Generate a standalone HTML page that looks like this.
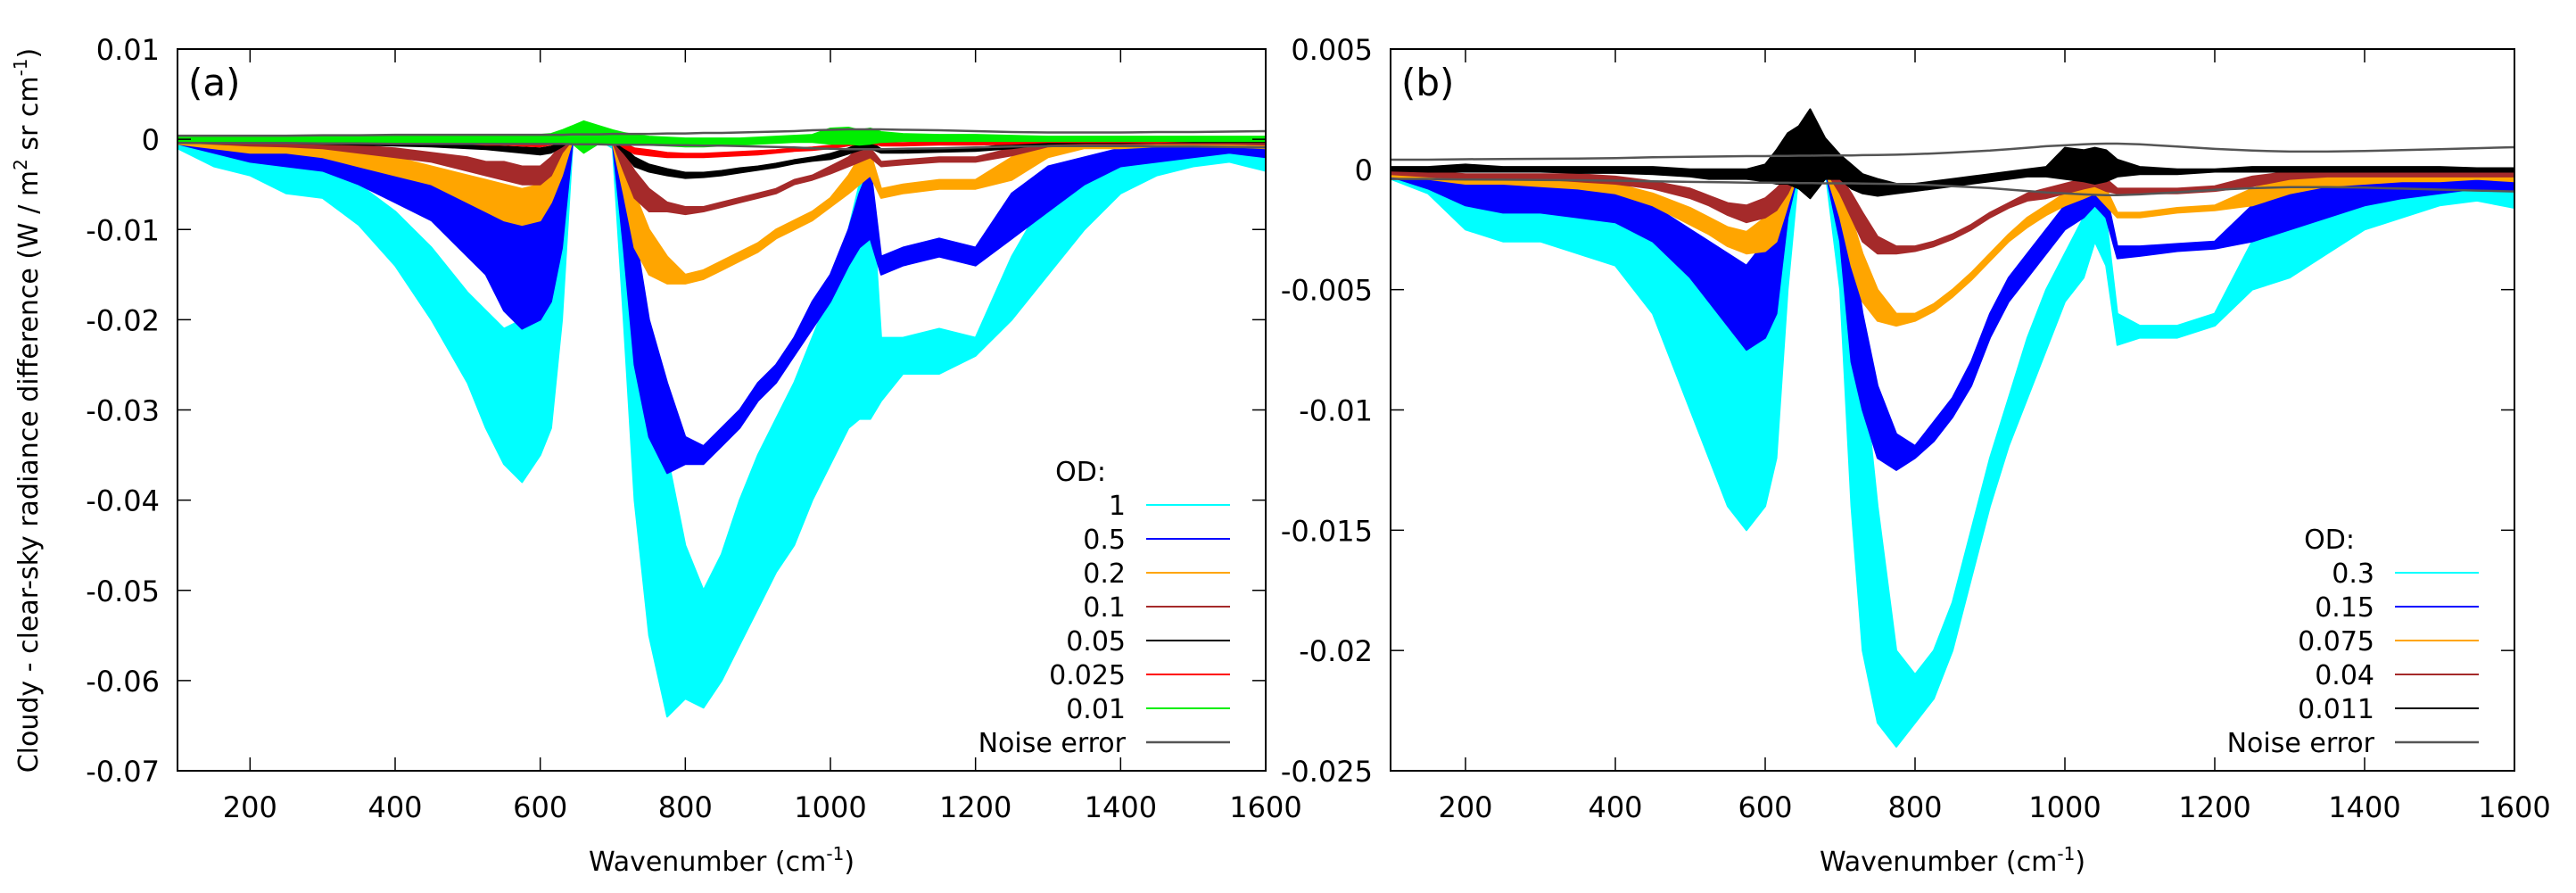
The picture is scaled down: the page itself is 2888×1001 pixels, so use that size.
<!DOCTYPE html>
<html><head><meta charset="utf-8"><style>
html,body{margin:0;padding:0;background:#fff;}
svg{display:block;font-family:"DejaVu Sans","Liberation Sans",sans-serif;}
</style></head><body>
<svg id="chart" width="2888" height="1001" viewBox="0 0 2888 1001" xmlns="http://www.w3.org/2000/svg">
<defs>
<clipPath id="clipA"><rect x="199" y="55" width="1220" height="809"/></clipPath>
<clipPath id="clipB"><rect x="1559" y="55" width="1260" height="809"/></clipPath>
</defs>
<g id="panelA"></g>
<g id="panelB"></g>
<text transform="translate(42,460) rotate(-90)" text-anchor="middle" font-size="30">Cloudy - clear-sky radiance difference (W / m<tspan font-size="20" dy="-12">2</tspan><tspan dy="12"> sr cm</tspan><tspan font-size="20" dy="-12">-1</tspan><tspan dy="12">)</tspan></text>
</svg>
<script>
// shared wavenumber grid (cm-1)
const wn = [100,150,200,250,300,350,400,450,500,525,550,575,600,615,630,645,660,680,700,715,730,750,775,800,825,850,875,900,925,950,975,1000,1025,1040,1055,1070,1100,1150,1200,1250,1300,1350,1400,1450,1500,1550,1600];
const xTicks = [200,400,600,800,1000,1200,1400,1600];
const yTicksA = [0.01,0,-0.01,-0.02,-0.03,-0.04,-0.05,-0.06,-0.07];
const yTickLabelsA = ["0.01","0","-0.01","-0.02","-0.03","-0.04","-0.05","-0.06","-0.07"];
const yTicksB = [0.005,0,-0.005,-0.01,-0.015,-0.02,-0.025];
const yTickLabelsB = ["0.005","0","-0.005","-0.01","-0.015","-0.02","-0.025"];
// Panel (a) values in units of 1e-3
const aCyanTop = [-0.5,-1,-1.5,-2.5,-3.5,-5,-8,-12,-17,-19,-21,-20,-17,-12,-2,0,0,0,0,-5,-15,-22,-35,-45,-50,-46,-40,-35,-31,-27,-22,-17,-10,-5,-3,-22,-22,-21,-22,-13,-6,-4,-2,-1.5,-1,-1,-2];
const aCyanBot = [-1,-3,-4,-6,-6.5,-9.5,-14,-20,-27,-32,-36,-38,-35,-32,-20,0,0,0,-1,-20,-40,-55,-64,-62,-63,-60,-56,-52,-48,-45,-40,-36,-32,-31,-31,-29,-26,-26,-24,-20,-15,-10,-6,-4,-3,-2.5,-3.5];
const aBlueTop = [-0.3,-0.5,-0.5,-1,-1.5,-2,-3,-4,-6,-7,-8,-8,-7,-5,-1,0,0,0,0,-3,-10,-20,-27,-33,-34,-32,-30,-27,-25,-22,-18,-15,-10,-6,-3,-13,-12,-11,-12,-6,-3,-2,-1,-1,-0.5,-0.5,-1];
const aBlueBot = [-0.5,-1.5,-2.5,-3,-3.5,-5,-7,-9,-13,-15,-19,-21,-20,-18,-12,0,0,0,-0.5,-12,-25,-33,-37,-36,-36,-34,-32,-29,-27,-24,-21,-18,-14,-12,-11,-15,-14,-13,-14,-11,-8,-5,-3,-2.5,-2,-1.5,-2];
const aOrangeTop = [-0.2,-0.3,-0.5,-0.5,-1,-1.5,-2,-3,-4,-4.5,-5,-5.5,-5,-3,-1,0,0,0,0,-2,-6,-10,-13,-15,-14.5,-13.5,-12.5,-11.5,-10,-9,-8,-6.5,-4,-2,-1.5,-5.5,-5,-4.5,-4.5,-2,-0.5,-0.3,-0.3,-0.3,-0.3,-0.3,-0.5];
const aOrangeBot = [-0.5,-1,-1.5,-1.5,-2,-3,-4,-5,-7,-8,-9,-9.5,-9,-7,-4,0,0,0,-0.5,-6,-12,-15,-16,-16,-15.5,-14.5,-13.5,-12.5,-11,-10,-9,-7.5,-6,-5,-4,-6.5,-6,-5.5,-5.5,-4.5,-2,-1,-1,-0.8,-0.8,-0.8,-1];
const aBrownTop = [0,-0.2,-0.3,-0.3,-0.5,-0.7,-1,-1.5,-2,-2.5,-2.5,-3,-3,-2,-0.5,0,0,0,0,-1.5,-3.5,-5.5,-7,-7.5,-7.5,-7,-6.5,-6,-5.5,-4.5,-4,-3,-2,-1,-1,-2.5,-2.3,-2,-2,-1,-0.3,-0.2,-0.2,-0.2,-0.2,-0.2,-0.3];
const aBrownBot = [-0.3,-0.5,-0.7,-0.8,-1,-1.5,-2,-2.5,-3.5,-4,-4.5,-5,-5,-4,-1.5,0,0,0,-0.3,-3.5,-6.5,-8,-8,-8.3,-8,-7.5,-7,-6.5,-6,-5,-4.5,-3.8,-3,-2.5,-2,-3,-2.8,-2.5,-2.5,-1.8,-0.8,-0.6,-0.6,-0.5,-0.5,-0.5,-0.6];
const aBlackTop = [0,0,0,0,-0.1,-0.2,-0.3,-0.4,-0.6,-0.7,-0.8,-0.9,-1,-0.8,-0.3,0,0,0,0,-0.8,-2,-2.8,-3.3,-3.7,-3.7,-3.5,-3.2,-3,-2.7,-2.3,-2,-1.6,-1,-0.5,-0.3,-1.1,-1.1,-1,-1,-0.5,-0.2,-0.1,-0.1,-0.1,-0.1,-0.1,-0.1];
const aBlackBot = [-0.2,-0.3,-0.3,-0.4,-0.5,-0.6,-0.7,-0.8,-1,-1.1,-1.3,-1.5,-1.7,-1.5,-0.8,0,0,0,-0.2,-1.5,-3,-3.6,-4,-4.3,-4.2,-4,-3.7,-3.4,-3.1,-2.7,-2.4,-2.2,-1.6,-1.2,-1,-1.5,-1.5,-1.4,-1.3,-1,-0.5,-0.4,-0.4,-0.3,-0.3,-0.3,-0.3];
const aRedTop = [0,0,0,0,0,-0.1,-0.1,-0.2,-0.2,-0.3,-0.3,-0.4,-0.4,-0.3,0,0,0,0,0,-0.5,-1,-1.2,-1.5,-1.6,-1.6,-1.5,-1.4,-1.3,-1.2,-1,-0.9,-0.7,-0.4,-0.2,0,-0.4,-0.4,-0.3,-0.3,-0.2,0,0,0,0,0,0,0];
const aRedBot = [-0.2,-0.2,-0.2,-0.3,-0.3,-0.3,-0.4,-0.5,-0.5,-0.6,-0.6,-0.7,-0.8,-0.6,-0.3,0,0,0,-0.1,-0.9,-1.6,-1.8,-2,-2,-2,-1.9,-1.8,-1.7,-1.5,-1.3,-1.2,-1,-0.7,-0.5,-0.4,-0.7,-0.7,-0.6,-0.6,-0.5,-0.3,-0.3,-0.3,-0.3,-0.2,-0.2,-0.2];
const aGreenTop = [0.3,0.3,0.3,0.3,0.3,0.3,0.4,0.4,0.4,0.5,0.4,0.5,0.5,0.6,1,1.5,2,1.5,1,0.7,0.5,0.3,0.2,0.1,0.1,0.1,0.1,0.2,0.3,0.4,0.5,1.2,1.3,1,1.2,0.8,0.6,0.5,0.5,0.4,0.3,0.3,0.3,0.3,0.3,0.3,0.3];
const aGreenBot = [-0.3,-0.3,-0.3,-0.3,-0.3,-0.3,-0.3,-0.3,-0.3,-0.3,-0.3,-0.3,-0.3,-0.4,-0.5,-0.5,-1.5,-0.5,-0.5,-0.5,-0.5,-0.6,-0.7,-0.8,-0.8,-0.7,-0.6,-0.5,-0.4,-0.3,-0.3,-0.5,-0.5,-0.6,-0.5,-0.3,-0.2,-0.2,-0.2,-0.2,-0.2,-0.2,-0.2,-0.2,-0.2,-0.2,-0.2];
const aNoise = [0.4,0.4,0.4,0.4,0.45,0.45,0.5,0.5,0.5,0.5,0.5,0.5,0.5,0.5,0.5,0.55,0.55,0.55,0.6,0.6,0.6,0.6,0.65,0.65,0.7,0.7,0.75,0.8,0.85,0.9,1,1.05,1.1,1.1,1.1,1.1,1.05,1,0.9,0.8,0.75,0.75,0.75,0.8,0.8,0.85,0.9];
// Panel (b) values in units of 1e-3
const bCyanTop = [-0.2,-0.5,-1,-1.2,-1.3,-1.5,-2,-3,-4.5,-5,-6,-7,-5,-3,-1,0,0,0,-0.5,-4,-8,-14,-20,-21,-20,-18,-15,-12,-9.5,-7,-5,-3.5,-2,-1,-2,-6,-6.5,-6.5,-6,-3,-2,-1.5,-1,-0.8,-0.6,-0.5,-1];
const bCyanBot = [-0.4,-1,-2.5,-3,-3,-3.5,-4,-6,-10,-12,-14,-15,-14,-12,-5,0,0,0,-5,-14,-20,-23,-24,-23,-22,-20,-17,-14,-11.5,-9.5,-7.5,-5.5,-4.5,-3,-4,-7.3,-7,-7,-6.5,-5,-4.5,-3.5,-2.5,-2,-1.5,-1.3,-1.6];
const bBlueTop = [-0.1,-0.3,-0.5,-0.6,-0.7,-0.8,-1,-1.5,-2.5,-3,-3.5,-4,-3,-2,-0.5,0,0,0,-0.5,-3,-6,-9,-11,-11.5,-10.5,-9.5,-8,-6,-4.5,-3.5,-2.5,-1.5,-1,-0.5,-1,-3.2,-3.2,-3.1,-3,-1.5,-1,-0.7,-0.5,-0.4,-0.3,-0.3,-0.5];
const bBlueBot = [-0.3,-0.8,-1.5,-1.8,-1.8,-2,-2.2,-3,-4.5,-5.5,-6.5,-7.5,-7,-6,-2,0,0,0,-3,-8,-10,-12,-12.5,-12,-11.3,-10.3,-9,-7,-5.5,-4.5,-3.5,-2.5,-2,-1.5,-2,-3.7,-3.6,-3.4,-3.3,-3,-2.5,-2,-1.5,-1.2,-1,-0.8,-0.9];
const bOrangeTop = [-0.1,-0.2,-0.3,-0.3,-0.4,-0.5,-0.6,-1,-1.6,-2,-2.4,-2.6,-2,-1.5,-0.5,0,0,0,-0.5,-2,-3.5,-5,-6,-6,-5.6,-5,-4.3,-3.5,-2.7,-2,-1.5,-1,-0.6,-0.3,-0.8,-1.8,-1.8,-1.6,-1.5,-0.8,-0.3,-0.2,-0.2,-0.2,-0.2,-0.2,-0.3];
const bOrangeBot = [-0.3,-0.4,-0.6,-0.6,-0.7,-0.8,-1,-1.5,-2.3,-2.7,-3.2,-3.5,-3.4,-3,-1.5,0,0,0,-2,-4,-5.5,-6.3,-6.5,-6.3,-5.9,-5.3,-4.6,-3.8,-3,-2.4,-1.9,-1.5,-1.2,-1,-1.5,-2,-2,-1.8,-1.7,-1.5,-1,-0.7,-0.6,-0.5,-0.5,-0.4,-0.5];
const bBrownTop = [0,-0.1,-0.2,-0.2,-0.2,-0.2,-0.3,-0.5,-0.8,-1.1,-1.4,-1.5,-1.2,-0.8,-0.3,0,0,0,-0.3,-1,-1.8,-2.8,-3.2,-3.2,-3,-2.7,-2.3,-1.8,-1.4,-1,-0.8,-0.6,-0.4,-0.3,-0.4,-0.8,-0.8,-0.8,-0.7,-0.3,-0.1,-0.1,-0.1,-0.1,-0.1,-0.1,-0.1];
const bBrownBot = [-0.2,-0.3,-0.4,-0.4,-0.4,-0.5,-0.6,-0.8,-1.2,-1.5,-1.9,-2.2,-2,-1.7,-1,0,0,0,-1,-2,-3,-3.5,-3.5,-3.4,-3.2,-2.9,-2.5,-2,-1.6,-1.3,-1.2,-1,-0.8,-0.7,-0.9,-1,-1,-1,-0.9,-0.7,-0.4,-0.3,-0.3,-0.3,-0.3,-0.3,-0.3];
const bBlackTop = [0.1,0.1,0.2,0.1,0.1,0.1,0.1,0.1,0,0,0,0,0.2,0.8,1.5,1.8,2.5,1.3,0.6,0.2,-0.2,-0.4,-0.6,-0.6,-0.5,-0.4,-0.3,-0.2,-0.1,0,0.1,0.9,0.8,0.9,0.8,0.4,0.1,0,0,0.1,0.1,0.1,0.1,0.1,0.1,0.05,0.05];
const bBlackBot = [-0.05,-0.1,-0.1,-0.1,-0.1,-0.15,-0.15,-0.2,-0.3,-0.4,-0.4,-0.4,-0.5,-0.6,-0.6,-0.8,-1.2,-0.4,-0.4,-0.8,-1,-1.1,-1,-0.9,-0.8,-0.7,-0.6,-0.5,-0.4,-0.3,-0.3,-0.4,-0.5,-0.6,-0.5,-0.3,-0.2,-0.2,-0.1,-0.1,-0.1,-0.1,-0.1,-0.1,-0.1,-0.1,-0.1];
const bNoise = [0.4,0.4,0.42,0.43,0.44,0.45,0.47,0.5,0.52,0.53,0.54,0.55,0.55,0.56,0.56,0.57,0.57,0.58,0.58,0.58,0.59,0.6,0.61,0.63,0.66,0.7,0.74,0.78,0.84,0.9,0.96,1.0,1.04,1.06,1.07,1.07,1.04,0.95,0.85,0.78,0.74,0.74,0.76,0.8,0.84,0.88,0.92];
const aLabels = ["1","0.5","0.2","0.1","0.05","0.025","0.01"];
const bLabels = ["0.3","0.15","0.075","0.04","0.011"];

const NS = "http://www.w3.org/2000/svg";
function mk(tag, parent, attrs){ const e=document.createElementNS(NS,tag); for(const k in attrs) e.setAttribute(k,attrs[k]); parent.appendChild(e); return e; }

function panel(g, cfg){
  const {x0,x1,y0,y1,ymax,ymin,clip} = cfg;
  const X = v => x0 + (v-100)/(1600-100)*(x1-x0);
  const Y = v => y0 + (ymax - v/1000)/(ymax-ymin)*(y1-y0);
  const plot = mk('g', g, {'clip-path':'url(#'+clip+')'});
  
  
  cfg.series.forEach((s,si)=>{
    let pts=[];
    for(let i=0;i<wn.length;i++) pts.push(X(wn[i]).toFixed(1)+','+Y(s.top[i]).toFixed(1));
    for(let i=wn.length-1;i>=0;i--) pts.push(X(wn[i]).toFixed(1)+','+Y(s.bot[i]).toFixed(1));
    const p = mk('polygon', plot, {points:pts.join(' '), fill:s.color, stroke:s.color, 'stroke-width':2, 'stroke-linejoin':'round'});
    
    
  });
  [1,-1].forEach(sign=>{
    let pts=[];
    for(let i=0;i<wn.length;i++) pts.push(X(wn[i]).toFixed(1)+','+Y(sign*cfg.noise[i]).toFixed(1));
    const l = mk('polyline', plot, {points:pts.join(' '), fill:'none', stroke:'#555', 'stroke-width':2.5});
    
    
  });
  // frame
  const fr = mk('rect', g, {x:x0,y:y0,width:x1-x0,height:y1-y0,fill:'none',stroke:'#000','stroke-width':2});
  
  
  xTicks.forEach(t=>{
    const x=X(t);
    mk('line', g, {x1:x,y1:y1,x2:x,y2:y1-15,stroke:'#000','stroke-width':1.5});
    mk('line', g, {x1:x,y1:y0,x2:x,y2:y0+15,stroke:'#000','stroke-width':1.5});
    const tx = mk('text', g, {x:x, y:y1+52, 'text-anchor':'middle','font-size':32});
    tx.textContent = t;
    
    
  });
  cfg.yTicks.forEach((t,i)=>{
    const y=Y(t*1000);
    mk('line', g, {x1:x0,y1:y,x2:x0+15,y2:y,stroke:'#000','stroke-width':1.5});
    mk('line', g, {x1:x1,y1:y,x2:x1-15,y2:y,stroke:'#000','stroke-width':1.5});
    const ty = mk('text', g, {x:x0-20, y:y+12, 'text-anchor':'end','font-size':32});
    ty.textContent = cfg.yLabels[i];
    
    
  });
  const xt = mk('text', g, {x:(x0+x1)/2, y:y1+112, 'text-anchor':'middle','font-size':30});
  xt.innerHTML = 'Wavenumber (cm<tspan font-size="20" dy="-12">-1</tspan><tspan dy="12">)</tspan>';
  
  
  const pl = mk('text', g, {x:x0+12, y:y0+52, 'font-size':42});
  pl.textContent = cfg.tag;
  
  
  // legend
  const lg = mk('g', g, {});
  
  
  const od = mk('text', lg, {x:cfg.lx-22, y:cfg.ly+11, 'text-anchor':'end','font-size':30});
  od.textContent = 'OD:';
  
  
  const entries = cfg.series.map(s=>({label:s.label,color:s.color,w:2})).concat([{label:'Noise error',color:'#555',w:2.5}]);
  entries.forEach((e,i)=>{
    const y = cfg.ly + 38*(i+1);
    const t = mk('text', lg, {x:cfg.lx, y:y+11, 'text-anchor':'end','font-size':30});
    t.textContent = e.label;
    
    
    const l = mk('line', lg, {x1:cfg.lx+23,y1:y,x2:cfg.lx+117,y2:y,stroke:e.color,'stroke-width':e.w});
    
    
  });
}

panel(document.getElementById('panelA'), {
  x0:199,x1:1419,y0:55,y1:864,ymax:0.01,ymin:-0.07,clip:'clipA',tag:'(a)',
  yTicks:yTicksA,yLabels:yTickLabelsA,noise:aNoise,lx:1262,ly:528,
  series:[
    {label:aLabels[0],color:'#00ffff',top:aCyanTop,bot:aCyanBot},
    {label:aLabels[1],color:'#0000ff',top:aBlueTop,bot:aBlueBot},
    {label:aLabels[2],color:'#ffa500',top:aOrangeTop,bot:aOrangeBot},
    {label:aLabels[3],color:'#a52a2a',top:aBrownTop,bot:aBrownBot},
    {label:aLabels[4],color:'#000000',top:aBlackTop,bot:aBlackBot},
    {label:aLabels[5],color:'#ff0000',top:aRedTop,bot:aRedBot},
    {label:aLabels[6],color:'#00ee00',top:aGreenTop,bot:aGreenBot}
  ]
});
panel(document.getElementById('panelB'), {
  x0:1559,x1:2819,y0:55,y1:864,ymax:0.005,ymin:-0.025,clip:'clipB',tag:'(b)',
  yTicks:yTicksB,yLabels:yTickLabelsB,noise:bNoise,lx:2662,ly:604,
  series:[
    {label:bLabels[0],color:'#00ffff',top:bCyanTop,bot:bCyanBot},
    {label:bLabels[1],color:'#0000ff',top:bBlueTop,bot:bBlueBot},
    {label:bLabels[2],color:'#ffa500',top:bOrangeTop,bot:bOrangeBot},
    {label:bLabels[3],color:'#a52a2a',top:bBrownTop,bot:bBrownBot},
    {label:bLabels[4],color:'#000000',top:bBlackTop,bot:bBlackBot}
  ]
});
</script>
</body></html>
